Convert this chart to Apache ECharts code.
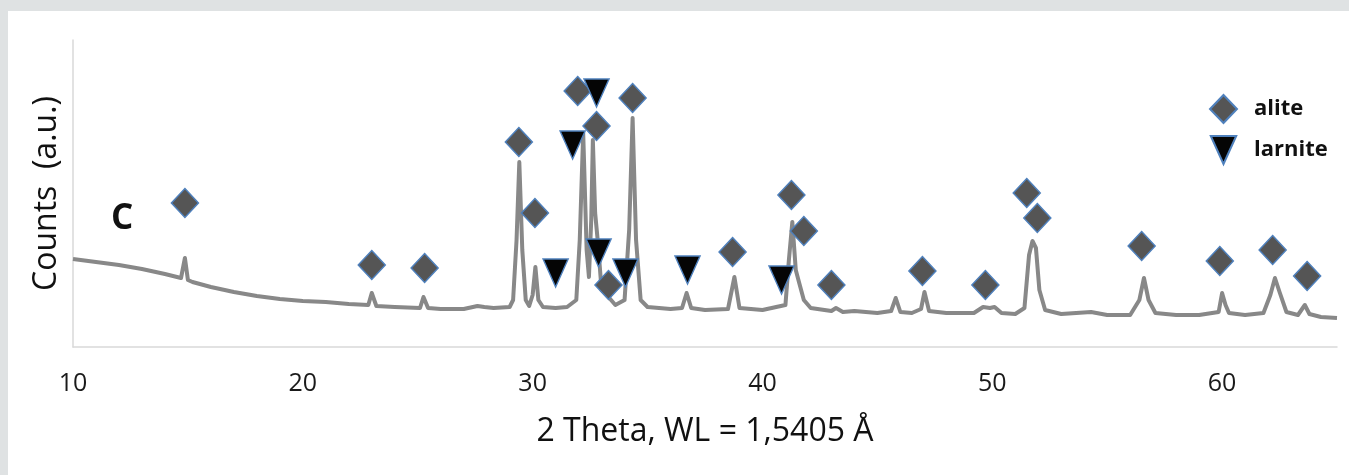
<!DOCTYPE html>
<html>
<head>
<meta charset="utf-8">
<script src="https://cdn.jsdelivr.net/npm/echarts@6/dist/echarts.min.js"></script>
<style>
  html, body { margin: 0; padding: 0; background: #dfe2e3; width: 1349px; height: 475px; overflow: hidden; }
  #xrd { position: absolute; left: 8px; top: 11px; width: 1341px; height: 464px; background: #fff; }
</style>
</head>
<body>
<div id="xrd"></div>
<script>
// diffraction pattern, [2theta, counts a.u.]
var pattern = [
  [10.0, 88], [11, 85], [12, 82], [13, 78], [14, 73], [14.7, 69], [14.87, 89], [15.0, 67],
  [15.2, 65], [16, 60], [17, 55], [18, 51], [19, 48], [20, 46], [21, 45], [22, 43],
  [22.85, 42], [23.0, 54], [23.2, 41], [24, 40], [25.1, 39], [25.25, 50], [25.45, 39],
  [26, 38], [27, 38], [27.6, 41], [27.9, 40], [28.3, 39], [29.0, 40], [29.15, 47],
  [29.3, 107], [29.42, 185], [29.55, 97], [29.7, 47], [29.85, 41], [30.0, 52], [30.12, 80],
  [30.25, 47], [30.45, 40], [31, 39], [31.5, 40], [31.9, 47], [32.05, 107], [32.2, 214],
  [32.35, 97], [32.45, 70], [32.55, 127], [32.62, 207], [32.72, 134], [32.85, 102],
  [33.0, 57], [33.3, 50], [33.6, 42], [34.0, 47], [34.2, 117], [34.35, 229], [34.5, 107],
  [34.7, 47], [35, 40], [36, 38], [36.5, 39], [36.7, 54], [36.9, 39], [37.5, 37],
  [38.5, 38], [38.78, 70], [39.0, 39], [40, 37], [41.0, 42], [41.15, 87], [41.3, 125],
  [41.45, 77], [41.6, 64], [41.8, 47], [42.1, 39], [43, 36], [43.2, 39], [43.5, 35],
  [44, 36], [45, 34], [45.6, 36], [45.8, 49], [46.0, 35], [46.5, 34], [46.9, 38],
  [47.05, 55], [47.25, 36], [48, 34], [49.2, 34], [49.6, 40], [49.9, 39], [50.1, 40],
  [50.4, 34], [51, 33], [51.4, 39], [51.6, 92], [51.75, 106], [51.9, 99], [52.05, 57],
  [52.3, 37], [53, 33], [54.3, 35], [55, 32], [56, 32], [56.4, 47], [56.6, 69],
  [56.8, 47], [57.1, 34], [58, 32], [59, 32], [59.85, 35], [60.0, 54], [60.15, 42],
  [60.3, 34], [61, 32], [61.8, 34], [62.1, 52], [62.3, 69], [62.5, 55], [62.8, 35],
  [63.3, 32], [63.6, 42], [63.8, 33], [64.3, 30], [65, 29]
];

// phase markers, [2theta, height]
var alite = [
  [14.87, 144], [23.0, 82], [25.3, 79], [29.4, 205], [30.1, 134], [31.96, 256],
  [32.78, 221], [33.3, 62], [34.35, 249], [38.7, 95], [41.26, 152], [41.8, 116],
  [43.0, 62], [46.96, 76], [49.7, 62], [51.5, 154], [51.96, 129], [56.5, 101],
  [59.9, 86], [62.2, 97], [63.7, 71]
];
var larnite = [
  [31.0, 74], [31.74, 202], [32.78, 254], [32.87, 94], [34.04, 74], [36.74, 77], [40.83, 67]
];

var xTicks = [10, 20, 30, 40, 50, 60];

var font = '"Open Sans", sans-serif';
var myChart = echarts.init(document.getElementById('xrd'));

myChart.setOption({
  animation: false,
  title: {
    text: 'C',
    left: 98,
    top: 186,
    textStyle: { fontFamily: font, fontSize: 35, fontWeight: 'bold', color: '#111' }
  },
  legend: {
    orient: 'vertical',
    left: 1196,
    top: 78,
    itemWidth: 27,
    itemHeight: 28,
    itemGap: 11,
    textStyle: { fontFamily: font, fontSize: 22, fontWeight: 'bold', color: '#111', padding: [0, 0, 0, 12] },
    data: [
      { name: 'alite', icon: 'diamond' },
      { name: 'larnite', icon: 'path://M0,0L10,0L5,11Z' }
    ]
  },
  grid: { left: 65, right: 12, top: 29, bottom: 128 },
  xAxis: {
    type: 'value',
    min: 10,
    max: 65,
    interval: 10,
    name: '2 Theta, WL = 1,5405 Å',
    nameLocation: 'middle',
    nameGap: 69,
    nameTextStyle: { fontFamily: font, fontSize: 32, color: '#111' },
    axisLine: { lineStyle: { color: '#d9d9d9', width: 1.5 } },
    axisTick: { show: false },
    splitLine: { show: false },
    axisLabel: {
      margin: 24,
      fontFamily: font,
      fontSize: 25,
      color: '#1a1a1a',
      formatter: function (v) { return xTicks.indexOf(v) >= 0 ? String(v) : ''; }
    }
  },
  yAxis: {
    type: 'value',
    min: 0,
    max: 307,
    name: 'Counts  (a.u.)',
    nameLocation: 'middle',
    nameGap: 10,
    nameTextStyle: { fontFamily: font, fontSize: 32, color: '#111' },
    axisLine: { show: true, lineStyle: { color: '#d9d9d9', width: 1.5 } },
    axisTick: { show: false },
    axisLabel: { show: false },
    splitLine: { show: false }
  },
  series: [
    {
      name: 'pattern',
      type: 'line',
      data: pattern,
      showSymbol: false,
      lineStyle: { color: '#888888', width: 4, join: 'round' },
      z: 1
    },
    {
      name: 'alite',
      type: 'scatter',
      data: alite,
      symbol: 'diamond',
      symbolSize: [27, 29],
      itemStyle: { color: '#555555', borderColor: '#4f81bd', borderWidth: 1.5, opacity: 1 },
      z: 3
    },
    {
      name: 'larnite',
      type: 'scatter',
      data: larnite,
      symbol: 'triangle',
      symbolRotate: 180,
      symbolSize: [25, 28],
      itemStyle: { color: '#050505', borderColor: '#4f81bd', borderWidth: 1.5, opacity: 1 },
      z: 4
    }
  ]
});
</script>
</body>
</html>
